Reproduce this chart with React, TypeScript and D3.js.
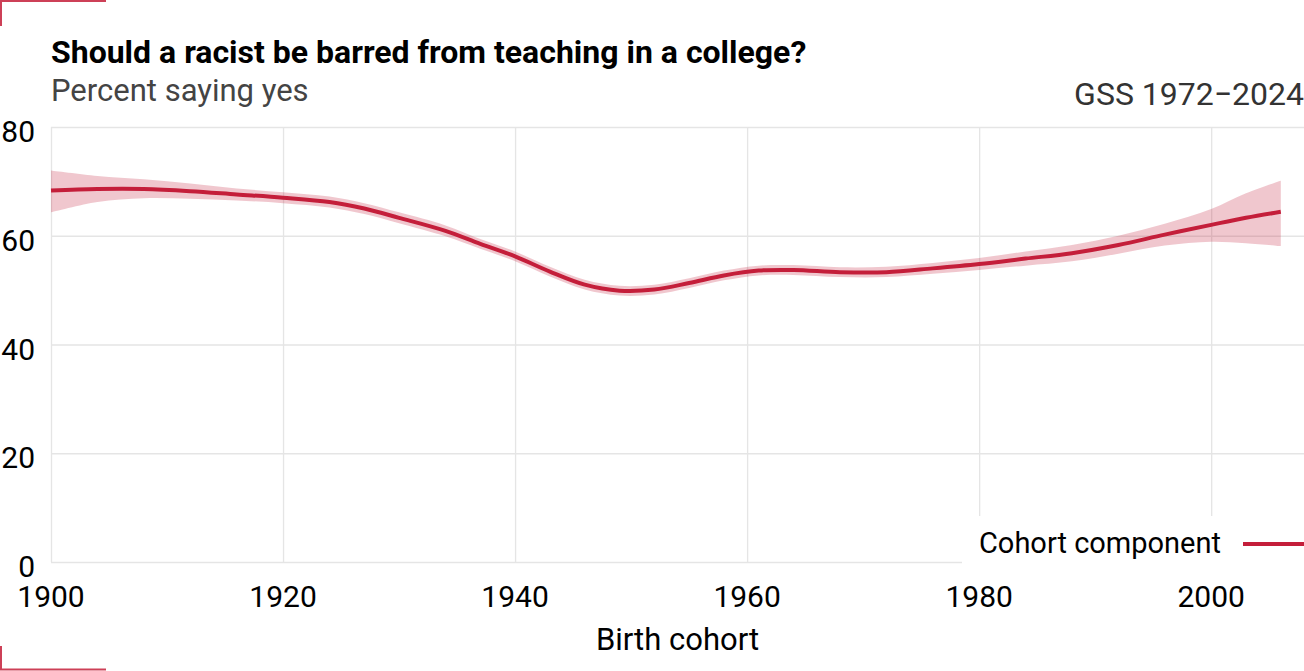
import React from "react";
import * as d3 from "d3";

const years = [1900, 1904, 1908, 1912, 1916, 1920, 1924, 1927, 1930, 1934, 1937, 1940, 1943, 1946, 1949, 1952, 1955, 1958, 1961, 1964, 1968, 1972, 1976, 1980, 1984, 1988, 1992, 1996, 2000, 2003, 2006];
const estimate = [68.3, 68.6, 68.6, 68.2, 67.6, 67.0, 66.2, 65.0, 63.3, 60.9, 58.5, 56.2, 53.4, 51.0, 49.9, 50.1, 51.3, 52.7, 53.6, 53.7, 53.3, 53.3, 54.0, 54.8, 55.8, 56.8, 58.3, 60.2, 62.0, 63.3, 64.4];
const lower = [64.3, 66.2, 66.9, 66.8, 66.5, 66.0, 65.2, 64.0, 62.3, 59.9, 57.6, 55.3, 52.5, 50.1, 49.0, 49.2, 50.4, 51.8, 52.7, 52.8, 52.4, 52.4, 53.0, 53.7, 54.5, 55.3, 56.7, 58.2, 58.9, 58.6, 58.1];
const upper = [72.0, 71.0, 70.4, 69.6, 68.7, 68.0, 67.2, 66.0, 64.3, 61.9, 59.4, 57.1, 54.3, 51.9, 50.8, 51.0, 52.2, 53.6, 54.5, 54.6, 54.2, 54.3, 55.0, 55.9, 57.1, 58.3, 60.0, 62.2, 64.9, 67.8, 70.1];
const xTicks = [1900, 1920, 1940, 1960, 1980, 2000];
const yTicks = [0, 20, 40, 60, 80];

const title = "Should a racist be barred from teaching in a college?";
const subtitle = "Percent saying yes";
const source = "GSS 1972\u22122024";
const xTitle = "Birth cohort";
const legendLabel = "Cohort component";

const W = 1304;
const H = 671;
const RED = "#C41E3A";
const FONT = "Roboto, 'Noto Sans', sans-serif";

export default function App() {
  const left = 51, right = 1304, top = 127, bottom = 562;
  const x = d3.scaleLinear().domain([1900, 2008]).range([left, right]);
  const y = d3.scaleLinear().domain([0, 80]).range([bottom, top]);
  const rows = years.map((yr, i) => ({ yr, e: estimate[i], lo: lower[i], hi: upper[i] }));
  const curve = d3.curveCatmullRom.alpha(0.5);
  const line = d3.line<any>().x(d => x(d.yr)).y(d => y(d.e)).curve(curve)(rows) || "";
  const area = d3.area<any>().x(d => x(d.yr)).y0(d => y(d.lo)).y1(d => y(d.hi)).curve(curve)(rows) || "";

  return (
    <div style={{ position: "absolute", left: 0, top: 0, width: W, height: H, background: "#fff" }}>
      <svg width={W} height={H} style={{ display: "block", fontFamily: FONT }}>
        <rect width={W} height={H} fill="#fff" />
        {/* corner marks */}
        <path d="M1,26 V1 H106" fill="none" stroke={RED} strokeOpacity={0.85} strokeWidth={2} />
        <path d="M1,646 V669.5 H106" fill="none" stroke={RED} strokeOpacity={0.85} strokeWidth={2} />

        <text x={51} y={63} fontSize={32} fontWeight={700} fill="#000">{title}</text>
        <text x={51} y={101} fontSize={31} fill="#444">{subtitle}</text>
        <text x={1304} y={105} fontSize={32} fill="#333" textAnchor="end">{source}</text>

        {/* grid */}
        {yTicks.map(t => (
          <line key={"gy" + t} x1={left} x2={right} y1={y(t) + 0.5} y2={y(t) + 0.5} stroke="#e5e5e5" strokeWidth={1.3} />
        ))}
        {xTicks.map(t => (
          <line key={"gx" + t} x1={x(t) + 0.5} x2={x(t) + 0.5} y1={top} y2={bottom} stroke="#e5e5e5" strokeWidth={1.3} />
        ))}

        {/* band and line */}
        <path d={area} fill={RED} fillOpacity={0.25} />
        <path d={line} fill="none" stroke={RED} strokeWidth={4} />

        {/* y labels */}
        {yTicks.map(t => (
          <text key={"ly" + t} x={35} y={y(t) + 15} fontSize={30} textAnchor="end" fill="#000">{t}</text>
        ))}
        {/* x labels */}
        {xTicks.map(t => (
          <text key={"lx" + t} x={x(t)} y={607} fontSize={30} textAnchor="middle" fill="#000">{t}</text>
        ))}
        <text x={(left + right) / 2} y={650} fontSize={31} textAnchor="middle" fill="#000">{xTitle}</text>

        {/* legend */}
        <rect x={962} y={516} width={W - 962} height={52} fill="#fff" />
        <text x={1221} y={553} fontSize={29} textAnchor="end" fill="#000">{legendLabel}</text>
        <line x1={1243} x2={1304} y1={544} y2={544} stroke={RED} strokeWidth={4} />
      </svg>
    </div>
  );
}
